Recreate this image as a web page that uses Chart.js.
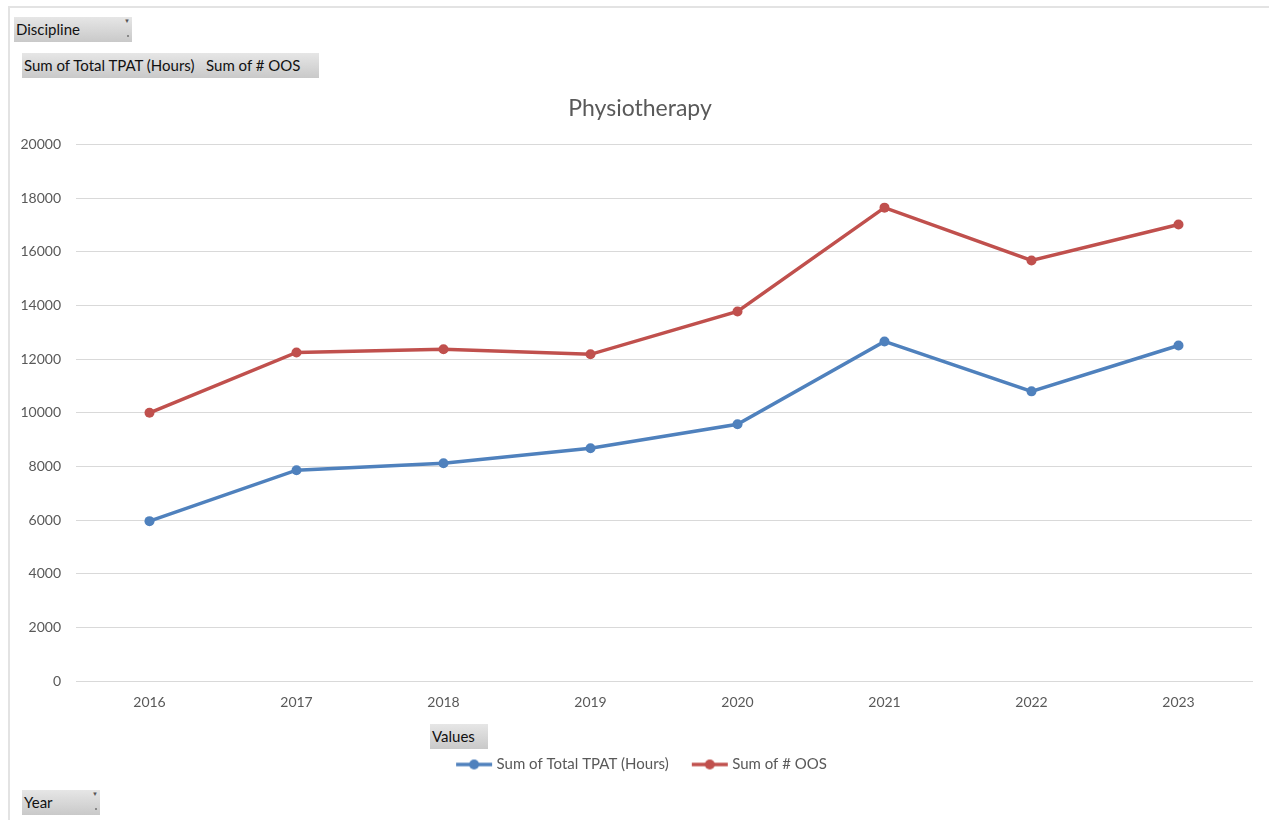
<!DOCTYPE html>
<html>
<head>
<meta charset="utf-8">
<script src="https://cdn.jsdelivr.net/npm/chart.js@4.4.0/dist/chart.umd.min.js"></script>
<style>
  html, body { margin: 0; padding: 0; background: #fff; }
  body { width: 1269px; height: 820px; position: relative; overflow: hidden; font-family: Lato, "Open Sans", sans-serif; }
  #frame { position: absolute; left: 8px; top: 6px; right: -2px; bottom: -2px; border-left: 2px solid #e3e3e3; border-top: 2px solid #e3e3e3; }
  #wrap { position: absolute; left: 0; top: 0; width: 1269px; height: 820px; }
  .btn { position: absolute; height: 25px; line-height: 25px; font-size: 15px; color: #111;
         background: linear-gradient(#e6e6e6, #c9c9c9); padding-left: 2px; box-sizing: border-box; white-space: nowrap; }
  .btn .arr { position: absolute; right: 2px; top: 1px; font-size: 6px; line-height: 6px; color: #555; }
  .btn .dot { position: absolute; right: 3px; bottom: 5px; width: 2px; height: 2px; background: #888; }
</style>
</head>
<body>
<div id="frame"></div>
<div id="wrap"><canvas id="myChart" width="1269" height="820"></canvas></div>
<div class="btn" style="left:14px;top:17px;width:118px;">Discipline<span class="arr">&#9660;</span><span class="dot"></span></div>
<div class="btn" style="left:22px;top:53px;width:297px;">Sum of Total TPAT (Hours)&nbsp;&nbsp; Sum of # OOS</div>
<div class="btn" style="left:430px;top:724px;width:58px;">Values</div>
<div class="btn" style="left:22px;top:790px;width:78px;">Year<span class="arr">&#9660;</span><span class="dot"></span></div>
<script>
const years = ['2016', '2017', '2018', '2019', '2020', '2021', '2022', '2023'];
const tpatHours = [5960, 7860, 8120, 8680, 9570, 12660, 10800, 12510];
const oosCount = [10000, 12250, 12370, 12180, 13780, 17650, 15680, 17020];
const yTicks = [0, 2000, 4000, 6000, 8000, 10000, 12000, 14000, 16000, 18000, 20000];

const BLUE = '#4f81bd';
const RED = '#c0504d';
const GREY = '#595959';

// legend marker: short line with a dot in the middle
function legendMarker(color) {
    const c = document.createElement('canvas');
    c.width = 38; c.height = 12;
    const g = c.getContext('2d');
    g.strokeStyle = color;
    g.lineWidth = 3.5;
    g.beginPath(); g.moveTo(1, 6); g.lineTo(37, 6); g.stroke();
    g.fillStyle = color;
    g.beginPath(); g.arc(19, 6, 5, 0, Math.PI * 2); g.fill();
    return c;
}

// title and legend sit a little right of the canvas centre
const shiftBlocks = {
    id: 'shiftBlocks',
    afterLayout(chart) {
        chart.titleBlock.left += 14;
        chart.titleBlock.right += 14;
        chart.legend.left += 17;
        chart.legend.right += 17;
    }
};

document.addEventListener('DOMContentLoaded', function() {
    const ctx = document.getElementById('myChart');

    const chart = new Chart(ctx, {
        type: 'line',
        data: {
            labels: years,
            datasets: [{
                label: 'Sum of Total TPAT (Hours)',
                data: tpatHours,
                borderColor: BLUE,
                backgroundColor: BLUE,
                borderWidth: 3.5,
                pointRadius: 5,
                pointHoverRadius: 5,
                pointBorderWidth: 0,
                tension: 0
            }, {
                label: 'Sum of # OOS',
                data: oosCount,
                borderColor: RED,
                backgroundColor: RED,
                borderWidth: 3.5,
                pointRadius: 5,
                pointHoverRadius: 5,
                pointBorderWidth: 0,
                tension: 0
            }]
        },
        plugins: [shiftBlocks],
        options: {
            responsive: false,
            animation: false,
            layout: { padding: { top: 95, right: 17, bottom: 38, left: 0 } },
            plugins: {
                tooltip: { enabled: false },
                title: {
                    display: true,
                    text: 'Physiotherapy',
                    color: GREY,
                    font: { family: 'Lato', size: 23, weight: 'normal' },
                    padding: { top: 0, bottom: 22 }
                },
                legend: {
                    position: 'bottom',
                    labels: {
                        usePointStyle: true,
                        pointStyleWidth: 30,
                        boxHeight: 12,
                        color: GREY,
                        font: { family: 'Lato', size: 15 },
                        padding: 26,
                        generateLabels: function(ch) {
                            return ch.data.datasets.map(function(ds, i) {
                                return {
                                    text: ds.label,
                                    pointStyle: legendMarker(ds.borderColor),
                                    fillStyle: ds.borderColor,
                                    strokeStyle: ds.borderColor,
                                    lineWidth: 0,
                                    fontColor: GREY,
                                    datasetIndex: i
                                };
                            });
                        }
                    }
                }
            },
            scales: {
                x: {
                    offset: true,
                    grid: { display: false, drawTicks: false },
                    border: { display: true, color: '#d9d9d9', width: 1 },
                    ticks: { color: GREY, font: { family: 'Lato', size: 14 }, padding: 13, maxRotation: 0 },
                    afterFit: function(s) { s.height = 50; }
                },
                y: {
                    min: 0,
                    max: 20000,
                    afterBuildTicks: function(s) { s.ticks = yTicks.map(function(v) { return { value: v }; }); },
                    grid: { color: '#d9d9d9', lineWidth: 1, drawTicks: false },
                    border: { display: false },
                    ticks: {
                        color: GREY,
                        font: { family: 'Lato', size: 14 },
                        padding: 15,
                        callback: function(v) { return String(v); }
                    },
                    afterFit: function(s) { s.width = 76; }
                }
            }
        }
    });
    chart.render();
});
</script>
</body>
</html>
